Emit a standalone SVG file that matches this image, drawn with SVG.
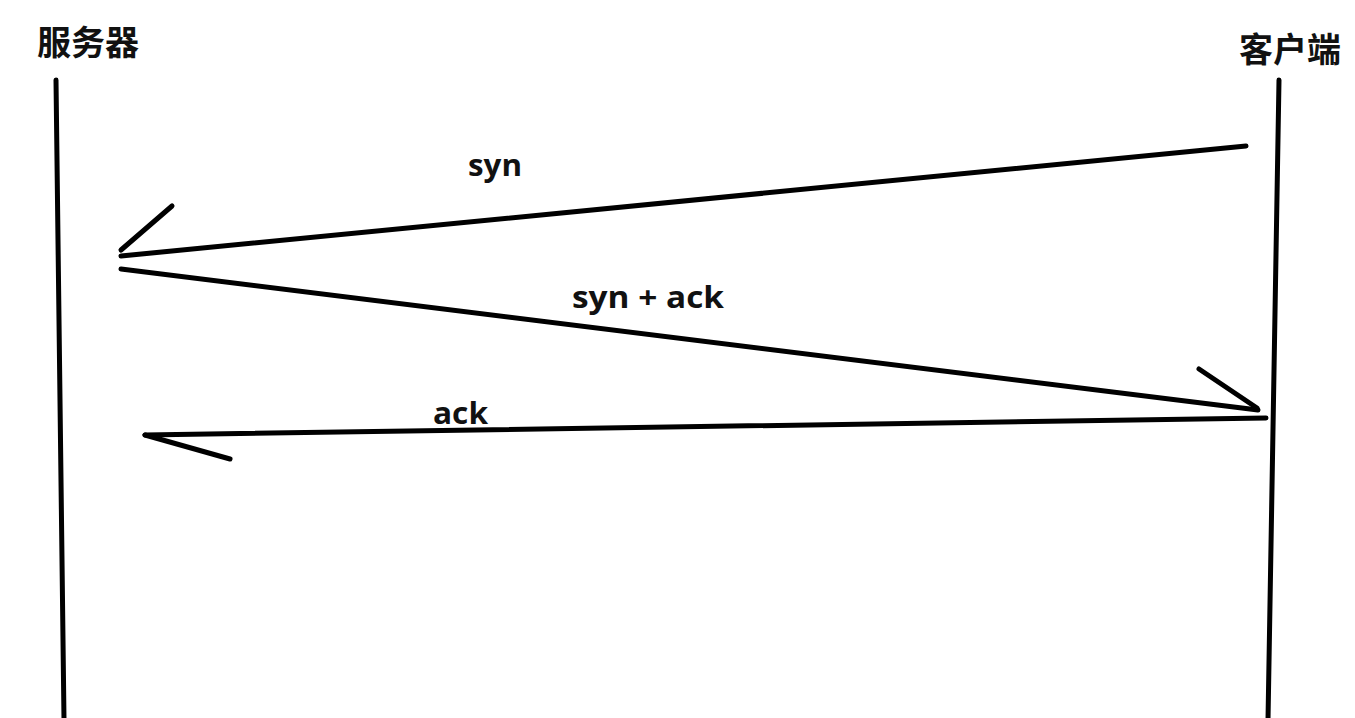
<svg xmlns="http://www.w3.org/2000/svg" width="1355" height="718" viewBox="0 0 1355 718">
<style>
.ln{stroke:#000;stroke-width:5;stroke-linecap:round;fill:none}
.lbl{font-family:"Open Sans","Noto Sans",sans-serif;font-weight:700;font-size:31px;fill:#111}
.hd{font-family:"Noto Sans CJK SC","Noto Sans",sans-serif;font-weight:700;font-size:34px;fill:#111}
</style>
<rect width="1355" height="718" fill="#fff"/>
<g id="server">
<line class="ln" x1="56" y1="80" x2="64" y2="720"/>
<text class="hd" x="37" y="55">服务器</text>
</g>
<g id="client">
<line class="ln" x1="1279" y1="80" x2="1268" y2="720"/>
<text class="hd" x="1239" y="62">客户端</text>
</g>
<g id="connectors">
<line class="ln" x1="1246" y1="146" x2="121" y2="256"/>
<line class="ln" x1="121" y1="250" x2="172" y2="206"/>
<line class="ln" x1="121" y1="269" x2="1258" y2="410"/>
<line class="ln" x1="1199" y1="369" x2="1257" y2="408"/>
<line class="ln" x1="1266" y1="418" x2="145" y2="435"/>
<line class="ln" x1="145" y1="435" x2="230" y2="459"/>
</g>
<g id="labels">
<text class="lbl" x="468" y="176" textLength="54" lengthAdjust="spacingAndGlyphs">syn</text>
<text class="lbl" x="572" y="308" textLength="152" lengthAdjust="spacingAndGlyphs">syn + ack</text>
<text class="lbl" x="433" y="424" textLength="55" lengthAdjust="spacingAndGlyphs">ack</text>
</g>
</svg>
